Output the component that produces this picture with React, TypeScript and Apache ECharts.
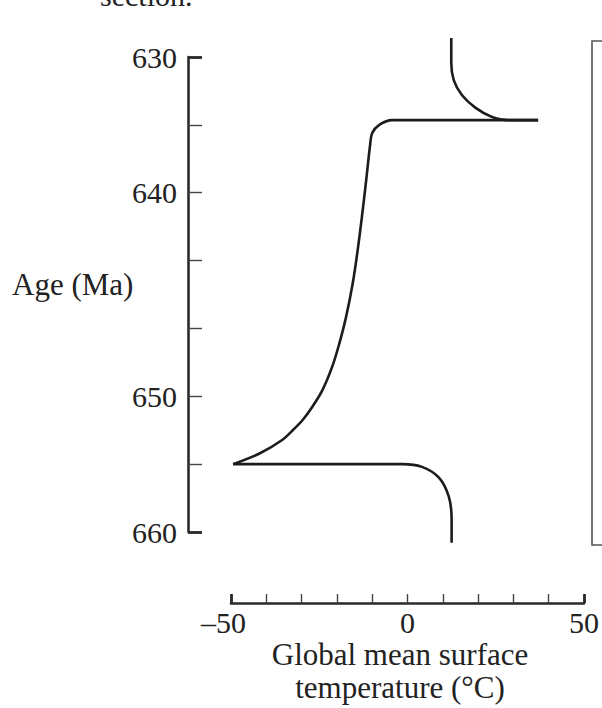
import React, { useEffect, useRef } from "react";
import * as echarts from "echarts";

// Tick labels
const yTickLabels = ["630", "", "640", "", "", "650", "", "660"]; // evenly spaced ticks, index 0..7
const xLabelValues = [-50, 0, 50];
const xLabelTexts = ["–50", "0", "50"];

// Curve: temperature (°C) vs. tick position on the age axis
const upperBranchT = [12.4, 12.4, 13.1, 15.4, 19.3, 23.8, 28.6, 37.0];
const upperBranchPos = [-0.28, 0.09, 0.34, 0.56, 0.75, 0.88, 0.93, 0.93];

const coolingT = [37.0, -4.4, -8.0, -10.0, -10.6, -11.8, -12.9, -14.1, -15.5, -17.4, -19.3, -21.3, -24.1, -26.9, -29.7, -32.5, -35.4, -41.8, -49.4];
const coolingPos = [0.93, 0.93, 1.0, 1.12, 1.3, 1.86, 2.35, 2.84, 3.33, 3.83, 4.22, 4.56, 4.91, 5.15, 5.35, 5.5, 5.64, 5.84, 6.0];

const recoveryT = [-49.4, -1.5, 4.1, 8.9, 11.7, 12.5, 12.5];
const recoveryPos = [6.0, 6.0, 6.04, 6.2, 6.48, 6.82, 7.16];

const FONT = '"Liberation Serif", "Times New Roman", serif';
const INK = "#1c1c1c";
const AXIS = "#2a2a2a";

const pairs = (xs: number[], ys: number[]) => xs.map((x, i) => [x, ys[i]]);

export default function App() {
  const ref = useRef<HTMLDivElement>(null);
  useEffect(() => {
    if (!ref.current) return;
    const chart = echarts.init(ref.current, undefined, { renderer: "svg" });
    const lineSeries = (data: number[][]) => ({
      type: "line",
      data,
      xAxisIndex: 0,
      yAxisIndex: 0,
      symbol: "none",
      smooth: 0.35,
      clip: false,
      lineStyle: { color: INK, width: 2.6 },
      silent: true,
    });
    chart.setOption({
      animation: false,
      backgroundColor: "#ffffff",
      grid: { left: 231, right: 16, top: 57, bottom: 176 },
      xAxis: [
        {
          type: "value",
          min: -50,
          max: 50,
          interval: 10,
          position: "bottom",
          offset: 71,
          splitLine: { show: false },
          axisLine: { show: true, onZero: false, lineStyle: { color: AXIS, width: 2.6 } },
          axisTick: { show: true, inside: true, length: 9, lineStyle: { color: "#444", width: 1.4 } },
          axisLabel: {
            show: true,
            margin: 4,
            fontFamily: FONT,
            fontSize: 30,
            color: "#222",
            formatter: (v: number) => {
              const i = xLabelValues.indexOf(v);
              if (i < 0) return "";
              return v < 0 ? `{neg|${xLabelTexts[i]}}` : xLabelTexts[i];
            },
            rich: {
              neg: { fontFamily: FONT, fontSize: 30, color: "#222", padding: [0, 15, 0, 0] },
            },
          },
        },
        {
          type: "value",
          min: -50,
          max: 50,
          interval: 100,
          position: "bottom",
          offset: 71,
          splitLine: { show: false },
          axisLine: { show: false, onZero: false },
          axisTick: { show: true, inside: true, length: 9, lineStyle: { color: AXIS, width: 2.8 } },
          axisLabel: { show: false },
        },
      ],
      yAxis: [
        {
          type: "value",
          min: 0,
          max: 7,
          interval: 1,
          inverse: true,
          position: "left",
          offset: 43,
          splitLine: { show: false },
          axisLine: { show: true, onZero: false, lineStyle: { color: AXIS, width: 2.6 } },
          axisTick: { show: true, inside: true, length: 14, lineStyle: { color: "#444", width: 1.4 } },
          axisLabel: {
            show: true,
            margin: 11,
            fontFamily: FONT,
            fontSize: 30,
            color: "#222",
            formatter: (v: number) => yTickLabels[Math.round(v)] ?? "",
          },
        },
        {
          type: "value",
          min: 0,
          max: 7,
          interval: 7,
          inverse: true,
          position: "left",
          offset: 43,
          splitLine: { show: false },
          axisLine: { show: false, onZero: false },
          axisTick: { show: true, inside: true, length: 14, lineStyle: { color: AXIS, width: 2.8 } },
          axisLabel: { show: false },
        },
      ],
      series: [
        lineSeries(pairs(upperBranchT, upperBranchPos)),
        lineSeries(pairs(coolingT, coolingPos)),
        lineSeries(pairs(recoveryT, recoveryPos)),
      ],
      graphic: [
        {
          type: "text",
          left: 100,
          top: -20,
          style: { text: "section.", fontFamily: FONT, fontSize: 30, fill: "#222" },
        },
        {
          type: "text",
          x: 12,
          y: 284,
          style: { text: "Age (Ma)", fontFamily: FONT, fontSize: 31, fill: "#222", align: "left", verticalAlign: "middle" },
        },
        {
          type: "text",
          x: 400,
          y: 671,
          style: {
            text: "Global mean surface\ntemperature (°C)",
            fontFamily: FONT,
            fontSize: 31,
            lineHeight: 33,
            fill: "#222",
            align: "center",
            verticalAlign: "middle",
          },
        },
        {
          type: "polyline",
          shape: { points: [[603, 41], [592, 41], [592, 545], [603, 545]] },
          style: { stroke: "#555", lineWidth: 1.6, fill: "none" },
          silent: true,
        },
      ],
    });
    return () => chart.dispose();
  }, []);
  return (
    <div
      ref={ref}
      style={{ position: "fixed", left: 0, top: 0, width: 602, height: 708, background: "#fff" }}
    />
  );
}
